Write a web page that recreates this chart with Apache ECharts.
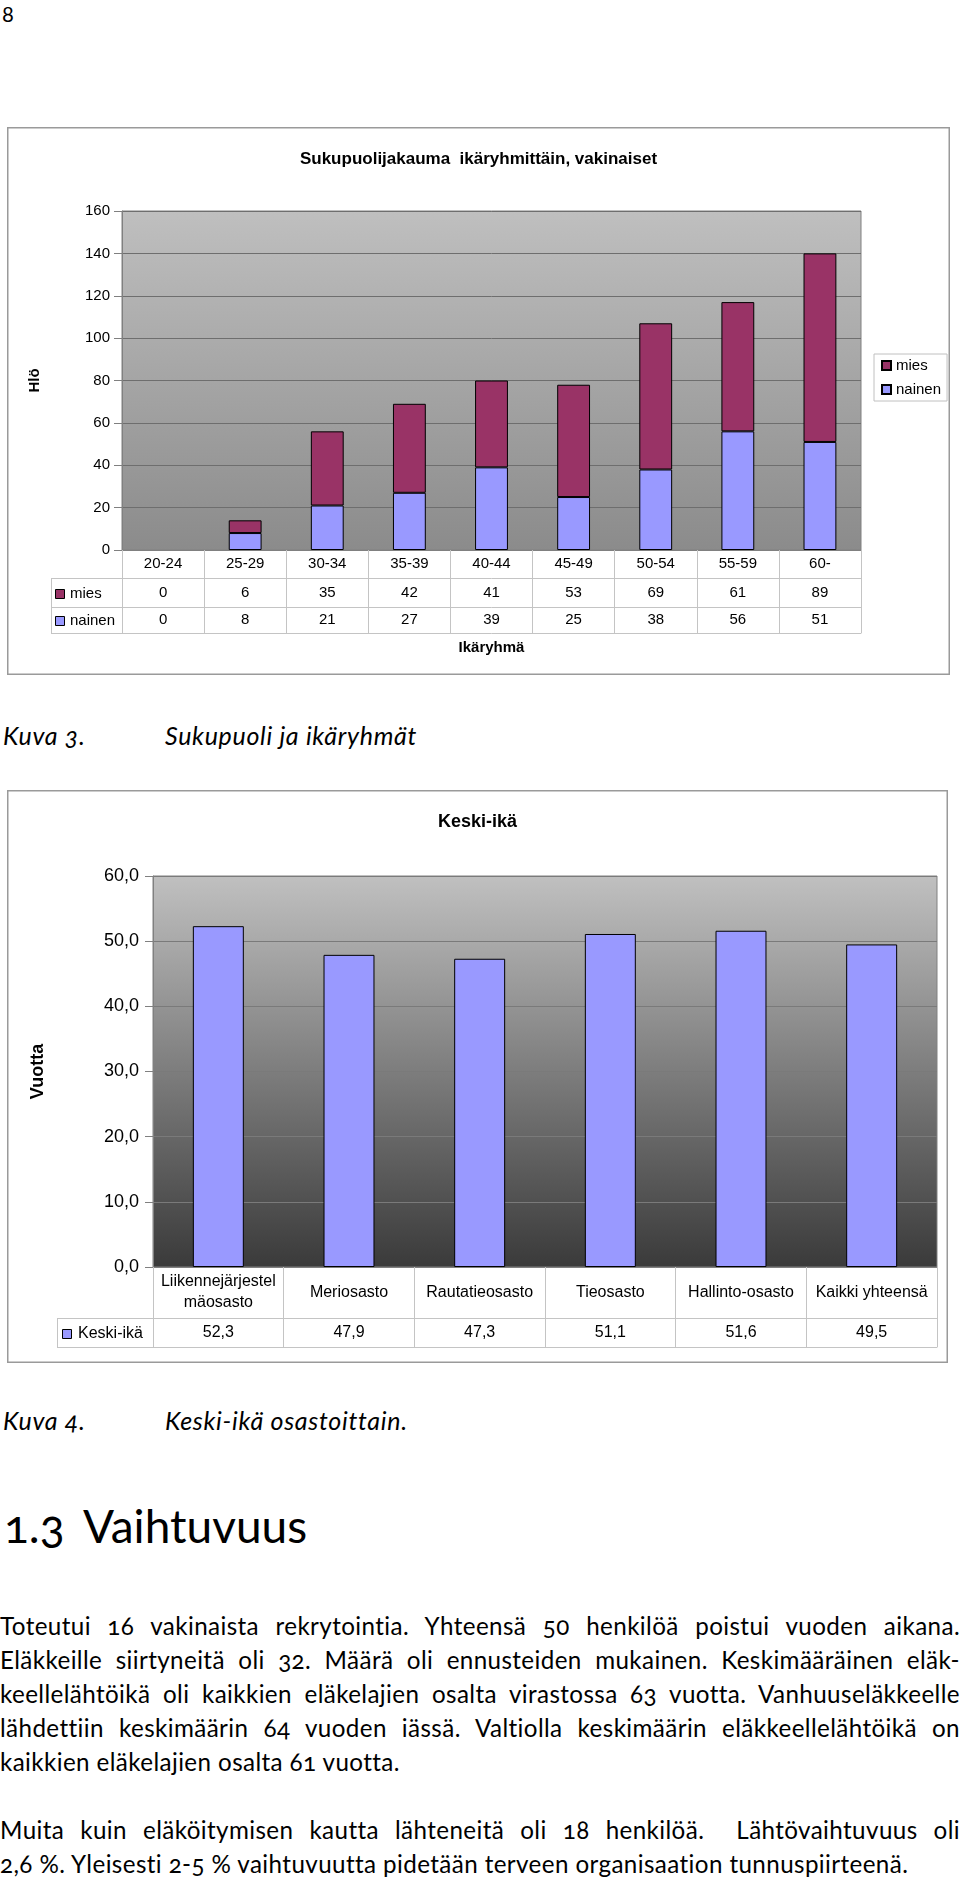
<!DOCTYPE html>
<html><head><meta charset="utf-8">
<script src="https://cdn.jsdelivr.net/npm/echarts@6/dist/echarts.min.js"></script>
<style>
html,body{margin:0;padding:0;background:#fff;}
body{width:960px;height:1882px;position:relative;overflow:hidden;font-family:Lato,'Noto Sans',sans-serif;color:#000;font-variant-numeric:oldstyle-nums;font-variant-ligatures:none;}
.abs{position:absolute;white-space:nowrap;}
.cap{font-style:italic;font-size:25px;line-height:28px;letter-spacing:0.7px;}
.ln{position:absolute;left:0;width:960px;font-size:24.2px;letter-spacing:0.4px;line-height:34px;height:34px;text-align:justify;text-align-last:justify;}
.ln.last{text-align:left;text-align-last:left;}
#c1{position:absolute;left:7px;top:127px;width:943px;height:548px;}
#c2{position:absolute;left:7px;top:790px;width:941px;height:573px;}
</style></head>
<body>
<div class="abs" style="left:2px;top:2px;font-size:22px;line-height:24px;">8</div>
<div id="c1"></div>
<div class="abs cap" style="left:3px;top:721px;">Kuva 3.</div>
<div class="abs cap" style="left:165px;top:721px;">Sukupuoli ja ikäryhmät</div>
<div id="c2"></div>
<div class="abs cap" style="left:3px;top:1406px;">Kuva 4.</div>
<div class="abs cap" style="left:165px;top:1406px;">Keski-ikä osastoittain.</div>
<div class="abs" style="left:4px;top:1501px;font-size:46px;line-height:50px;">1.3</div>
<div class="abs" style="left:83px;top:1501px;font-size:46px;line-height:50px;">Vaihtuvuus</div>
<div class="ln" style="top:1609px;">Toteutui 16 vakinaista rekrytointia. Yhteensä 50 henkilöä poistui vuoden aikana.</div>
<div class="ln" style="top:1643px;">Eläkkeille siirtyneitä oli 32. Määrä oli ennusteiden mukainen. Keskimääräinen eläk-</div>
<div class="ln" style="top:1677px;">keellelähtöikä oli kaikkien eläkelajien osalta virastossa 63 vuotta. Vanhuuseläkkeelle</div>
<div class="ln" style="top:1711px;">lähdettiin keskimäärin 64 vuoden iässä. Valtiolla keskimäärin eläkkeellelähtöikä on</div>
<div class="ln last" style="top:1745px;">kaikkien eläkelajien osalta 61 vuotta.</div>
<div class="ln" style="top:1813px;">Muita kuin eläköitymisen kautta lähteneitä oli 18 henkilöä.&nbsp; Lähtövaihtuvuus oli</div>
<div class="ln last" style="top:1847px;">2,6 %. Yleisesti 2-5 % vaihtuvuutta pidetään terveen organisaation tunnuspiirteenä.</div>
<script>
// ---- data: chart 1 ----
const ageGroups = ['20-24','25-29','30-34','35-39','40-44','45-49','50-54','55-59','60-'];
const miesValues = [0,6,35,42,41,53,69,61,89];
const nainenValues = [0,8,21,27,39,25,38,56,51];
const hloTicks = {min:0, max:160, interval:20};
// ---- data: chart 2 ----
const departments = ['Liikennejärjestelmäosasto','Meriosasto','Rautatieosasto','Tieosasto','Hallinto-osasto','Kaikki yhteensä'];
const keskiIka = [52.3,47.9,47.3,51.1,51.6,49.5];
const vuottaTicks = {min:0, max:60, interval:10};

const FONT = "'Liberation Sans', Arial, sans-serif";
const TABLE = '#c4c4c4';
const fi = v => v.toFixed(1).replace('.', ',');

// ================= Chart 1 =================
(function(){
  const W = 943, H = 548;
  const g = {left:115, right:89, top:84, bottom:125};
  const rows = [28, 57, 83];
  const pb = H - g.bottom;
  const colL = 44;
  const series = [
    {name:'nainen', data:nainenValues, color:'#9999FF'},
    {name:'mies', data:miesValues, color:'#993366'}
  ];
  const chart = echarts.init(document.getElementById('c1'));
  const tableRows = [
    {name:'mies', color:'#993366', y: pb + (rows[0]+rows[1])/2},
    {name:'nainen', color:'#9999FF', y: pb + (rows[1]+rows[2])/2}
  ];
  const graphic = [
    {type:'rect', silent:true, shape:{x:0.75,y:0.75,width:W-1.5,height:H-1.5}, style:{fill:null, stroke:'#9a9a9a', lineWidth:1.5}},
    {type:'line', silent:true, shape:{x1:colL+0.5,y1:pb+rows[0],x2:colL+0.5,y2:pb+rows[2]}, style:{stroke:TABLE,lineWidth:1}}
  ];
  rows.forEach(r => graphic.push({type:'line', silent:true, shape:{x1:colL,y1:pb+r+0.5,x2:g.left,y2:pb+r+0.5}, style:{stroke:TABLE,lineWidth:1}}));
  tableRows.forEach(t => {
    graphic.push({type:'rect', silent:true, shape:{x:colL+4.5,y:Math.round(t.y-4)+0.5,width:9,height:9}, style:{fill:t.color, stroke:'#000', lineWidth:1}});
    graphic.push({type:'text', silent:true, style:{text:t.name, x:colL+19, y:t.y+1, fill:'#000', font:'15px '+FONT, verticalAlign:'middle'}});
  });
  const lbl = (m) => ({interval:0, margin:m, verticalAlign:'middle', fontSize:15, color:'#000', fontFamily:FONT});
  chart.setOption({
    animation:false,
    textStyle:{fontFamily:FONT, color:'#000'},
    title:{text:'Sukupuolijakauma  ikäryhmittäin, vakinaiset', left:'center', top:19,
      textStyle:{fontFamily:FONT, fontSize:17, fontWeight:'bold', color:'#000'}},
    legend:{orient:'vertical', left:867, top:227, data:['mies','nainen'], icon:'rect',
      itemWidth:9, itemHeight:9, itemGap:9, padding:[4,6,4,7], borderColor:'#c0c0c0', borderWidth:1,
      textStyle:{fontFamily:FONT, fontSize:15, color:'#000'}},
    grid:{left:g.left, right:g.right, top:g.top, bottom:g.bottom, show:true, borderColor:'#808080', borderWidth:1,
      backgroundColor:{type:'linear', x:0, y:0, x2:0, y2:1, colorStops:[{offset:0,color:'#bfbfbf'},{offset:1,color:'#8b8b8b'}]}},
    xAxis:[
      {type:'category', position:'bottom', data:ageGroups, axisLine:{lineStyle:{color:'#808080'}},
        axisTick:{show:true, interval:0, length:rows[0], lineStyle:{color:TABLE}},
        axisLabel:lbl(rows[0]/2)},
      {type:'category', position:'bottom', data:miesValues.map(String), offset:rows[0], axisLine:{lineStyle:{color:TABLE}},
        axisTick:{show:true, interval:0, length:rows[1]-rows[0], lineStyle:{color:TABLE}},
        axisLabel:lbl((rows[1]-rows[0])/2)},
      {type:'category', position:'bottom', data:nainenValues.map(String), offset:rows[1], axisLine:{lineStyle:{color:TABLE}},
        axisTick:{show:true, interval:0, length:rows[2]-rows[1], lineStyle:{color:TABLE}},
        axisLabel:lbl((rows[2]-rows[1])/2)},
      {type:'category', position:'bottom', data:ageGroups, offset:rows[2], axisLine:{lineStyle:{color:TABLE}},
        axisTick:{show:false}, axisLabel:{show:false},
        name:'Ikäryhmä', nameLocation:'middle', nameGap:7,
        nameTextStyle:{fontWeight:'bold', fontSize:15, color:'#000', fontFamily:FONT}}
    ],
    yAxis:{type:'value', min:hloTicks.min, max:hloTicks.max, interval:hloTicks.interval,
      name:'Hlö', nameLocation:'middle', nameGap:80, nameRotate:90,
      nameTextStyle:{fontWeight:'bold', fontSize:15, color:'#000', fontFamily:FONT},
      axisLine:{show:true, lineStyle:{color:'#808080'}},
      axisTick:{show:true, length:8, lineStyle:{color:'#808080'}},
      axisLabel:{margin:12, fontSize:15, color:'#000', fontFamily:FONT},
      splitLine:{lineStyle:{color:'#6e6e6e'}}},
    series: series.map(s => ({name:s.name, type:'bar', stack:'total', barWidth:'40%',
      data:s.data.map(v => v === 0 ? {value:v, itemStyle:{borderWidth:0}} : v),
      itemStyle:{color:s.color, borderColor:'#000', borderWidth:1}})),
    graphic: graphic
  });
})();

// ================= Chart 2 =================
(function(){
  const W = 941, H = 573;
  const g = {left:146, right:11, top:86, bottom:96};
  const rows = [51, 80];
  const pb = H - g.bottom;
  const colL = 50;
  const chart = echarts.init(document.getElementById('c2'));
  const ty = pb + (rows[0]+rows[1])/2;
  const graphic = [
    {type:'rect', silent:true, shape:{x:0.75,y:0.75,width:W-1.5,height:H-1.5}, style:{fill:null, stroke:'#9a9a9a', lineWidth:1.5}},
    {type:'line', silent:true, shape:{x1:colL+0.5,y1:pb+rows[0],x2:colL+0.5,y2:pb+rows[1]}, style:{stroke:TABLE,lineWidth:1}},
    {type:'line', silent:true, shape:{x1:colL,y1:pb+rows[0]+0.5,x2:g.left,y2:pb+rows[0]+0.5}, style:{stroke:TABLE,lineWidth:1}},
    {type:'line', silent:true, shape:{x1:colL,y1:pb+rows[1]+0.5,x2:g.left,y2:pb+rows[1]+0.5}, style:{stroke:TABLE,lineWidth:1}},
    {type:'rect', silent:true, shape:{x:colL+5.5,y:Math.round(ty-4)+0.5,width:9,height:9}, style:{fill:'#9999FF', stroke:'#000', lineWidth:1}},
    {type:'text', silent:true, style:{text:'Keski-ikä', x:colL+21, y:ty+1, fill:'#000', font:'16px '+FONT, verticalAlign:'middle'}}
  ];
  chart.setOption({
    animation:false,
    textStyle:{fontFamily:FONT, color:'#000'},
    title:{text:'Keski-ikä', left:'center', top:18,
      textStyle:{fontFamily:FONT, fontSize:18, fontWeight:'bold', color:'#000'}},
    grid:{left:g.left, right:g.right, top:g.top, bottom:g.bottom, show:true, borderColor:'#808080', borderWidth:1,
      backgroundColor:{type:'linear', x:0, y:0, x2:0, y2:1, colorStops:[{offset:0,color:'#c0c0c0'},{offset:1,color:'#3a3a3a'}]}},
    xAxis:[
      {type:'category', position:'bottom', data:departments, axisLine:{lineStyle:{color:'#808080'}},
        axisTick:{show:true, interval:0, length:rows[0], lineStyle:{color:TABLE}},
        axisLabel:{interval:0, margin:rows[0]/2, verticalAlign:'middle', fontSize:16, lineHeight:21, color:'#000', fontFamily:FONT,
          width:128, overflow:'breakAll', align:'center'}},
      {type:'category', position:'bottom', data:keskiIka.map(fi), offset:rows[0], axisLine:{lineStyle:{color:TABLE}},
        axisTick:{show:true, interval:0, length:rows[1]-rows[0], lineStyle:{color:TABLE}},
        axisLabel:{interval:0, margin:(rows[1]-rows[0])/2, verticalAlign:'middle', fontSize:16, color:'#000', fontFamily:FONT}},
      {type:'category', position:'bottom', data:departments, offset:rows[1], axisLine:{lineStyle:{color:TABLE}},
        axisTick:{show:false}, axisLabel:{show:false}}
    ],
    yAxis:{type:'value', min:vuottaTicks.min, max:vuottaTicks.max, interval:vuottaTicks.interval,
      name:'Vuotta', nameLocation:'middle', nameGap:106, nameRotate:90,
      nameTextStyle:{fontWeight:'bold', fontSize:18, color:'#000', fontFamily:FONT},
      axisLine:{show:true, lineStyle:{color:'#808080'}},
      axisTick:{show:true, length:8, lineStyle:{color:'#808080'}},
      axisLabel:{margin:14, fontSize:18, color:'#000', fontFamily:FONT, formatter:fi},
      splitLine:{lineStyle:{color:'#7a7a7a'}}},
    series:[{name:'Keski-ikä', type:'bar', data:keskiIka, barWidth:'39%',
      itemStyle:{color:'#9999FF', borderColor:'#000', borderWidth:1}}],
    graphic: graphic
  });
})();
</script>
</body></html>
